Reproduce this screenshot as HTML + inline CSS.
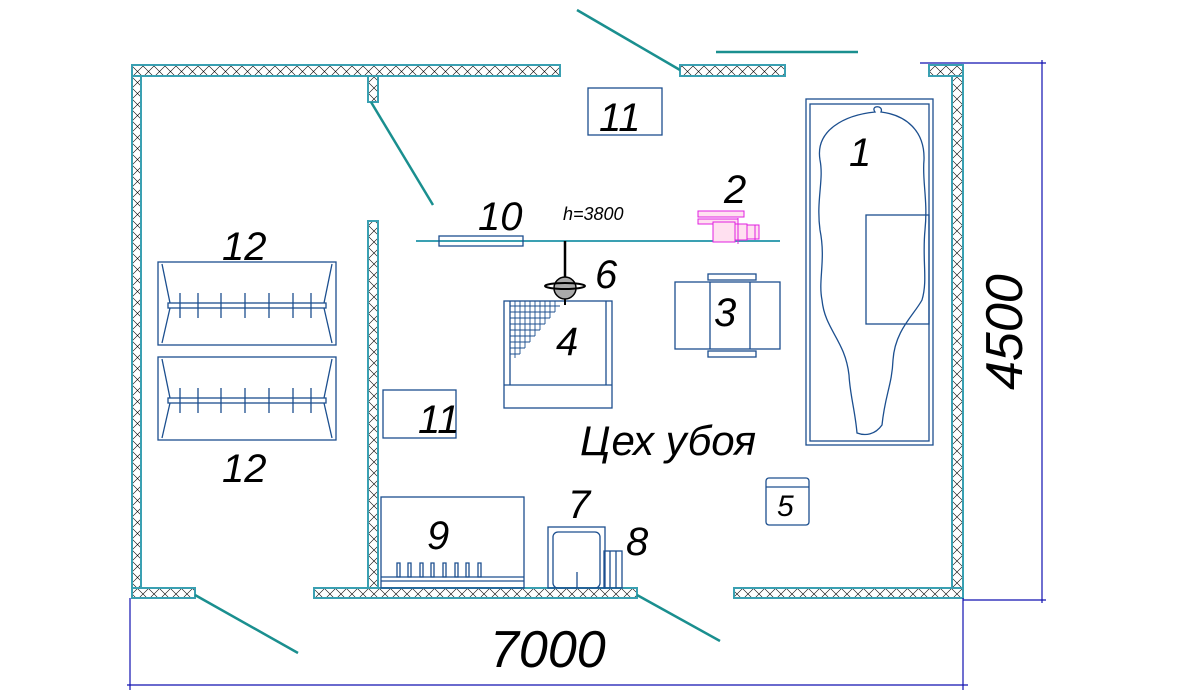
<!DOCTYPE html>
<html><head><meta charset="utf-8"><style>
html,body{margin:0;padding:0;background:#fff;}
svg{display:block}
text{font-family:"Liberation Sans","DejaVu Sans",sans-serif;font-style:italic;fill:#000}
</style></head><body>
<svg width="1191" height="700" viewBox="0 0 1191 700" xmlns="http://www.w3.org/2000/svg">
<defs>
<pattern id="hx" width="11" height="11" patternUnits="userSpaceOnUse">
<path d="M0 0L11 11M11 0L0 11" stroke="#000" stroke-width="0.6"/>
</pattern>
</defs>
<g fill="url(#hx)" stroke="#3aa0b2" stroke-width="2">
<rect x="132" y="65" width="428" height="11"/>
<rect x="368" y="76" width="10" height="26"/>
<rect x="680" y="65" width="105" height="11"/>
<rect x="929" y="65" width="34" height="11"/>
<rect x="132" y="76" width="9" height="512"/>
<rect x="952" y="76" width="11" height="512"/>
<rect x="368" y="221" width="10" height="367"/>
<rect x="132" y="588" width="63" height="10"/>
<rect x="314" y="588" width="323" height="10"/>
<rect x="734" y="588" width="229" height="10"/>
</g>
<g stroke="#1a8f8f" stroke-width="2.5" fill="none">
<line x1="371" y1="102" x2="433" y2="205"/>
<line x1="577" y1="10" x2="680" y2="70"/>
<line x1="716" y1="52" x2="858" y2="52"/>
<line x1="195" y1="595" x2="298" y2="653"/>
<line x1="637" y1="595" x2="720" y2="641"/>
</g>
<g stroke="#1010b0" stroke-width="1.2" fill="none">
<line x1="1042" y1="60" x2="1042" y2="603"/>
<line x1="920" y1="63" x2="1046" y2="63"/>
<line x1="963" y1="600" x2="1046" y2="600"/>
<line x1="127" y1="685" x2="968" y2="685"/>
<line x1="130" y1="598" x2="130" y2="690"/>
<line x1="963" y1="598" x2="963" y2="690"/>
</g>
<line x1="416" y1="241" x2="780" y2="241" stroke="#3aa0b2" stroke-width="2"/>
<g stroke="#1c4f8f" stroke-width="1.3" fill="none">
<rect x="439" y="236" width="84" height="10"/>
<rect x="588" y="88" width="74" height="47"/>
<rect x="383" y="390" width="73" height="48"/>
<rect x="158" y="262" width="178" height="83"/>
<rect x="158" y="357" width="178" height="83"/>
<path d="M162 264L170 303M332 264L324 303M162 343L170 308M332 343L324 308M162 359L170 398M332 359L324 398M162 438L170 403M332 438L324 403"/>
<rect x="168" y="303" width="158" height="5"/>
<rect x="168" y="398" width="158" height="5"/>
<path d="M180 293V318M198 293V318M221 293V318M245 293V318M269 293V318M293 293V318M311 293V318M180 388V413M198 388V413M221 388V413M245 388V413M269 388V413M293 388V413M311 388V413"/>
<rect x="504" y="301" width="108" height="107"/>
<path d="M510 301V385H606V301M504 385H612"/>
<path d="M510 306H560M510 312H555M510 318H550M510 324H545M510 330H540M510 336H535M510 342H530M510 348H525M510 354H520M515 301V358M520 301V354M525 301V348M530 301V342M535 301V336M540 301V330M545 301V324M550 301V318M555 301V312" stroke-width="0.9"/>
<rect x="675" y="282" width="105" height="67"/>
<path d="M710 282V349M750 282V349"/>
<rect x="708" y="274" width="48" height="6"/>
<rect x="708" y="351" width="48" height="6"/>
<rect x="806" y="99" width="127" height="346"/>
<rect x="810" y="104" width="119" height="337"/>
<rect x="866" y="215" width="63" height="109"/>
<path d="M875 112C870 105 884 105 881 112C905 115 925 130 924 160C922 180 928 200 925 230C922 260 928 280 922 300C914 315 895 330 893 360C892 385 885 395 882 425C875 435 865 436 857 433C855 410 850 395 849 375C845 340 825 330 822 300C818 280 826 260 820 230C816 200 824 180 820 160C815 130 845 115 875 112Z"/>
<rect x="766" y="478" width="43" height="47" rx="3"/>
<path d="M766 487H809"/>
<rect x="381" y="497" width="143" height="91"/>
<path d="M381 577H524M381 581H524"/>
<path d="M397 563h3v14h-3zM408 563h3v14h-3zM420 563h3v14h-3zM431 563h3v14h-3zM443 563h3v14h-3zM455 563h3v14h-3zM466 563h3v14h-3zM478 563h3v14h-3z"/>
<rect x="548" y="527" width="57" height="61"/>
<rect x="553" y="532" width="47" height="56" rx="5"/>
<path d="M577 572V588"/>
<rect x="604" y="551" width="18" height="37"/>
<path d="M610 551V588M616 551V588"/>
</g>
<g stroke="#e020e0" stroke-width="1" fill="#ffe0f0">
<rect x="698" y="211" width="46" height="6"/>
<rect x="698" y="219" width="40" height="5"/>
<rect x="713" y="222" width="22" height="20"/>
<rect x="735" y="224" width="12" height="16"/>
<rect x="747" y="225" width="12" height="14"/>
<path d="M738 218V244M755 225V240" fill="none"/>
</g>
<line x1="565" y1="241" x2="565" y2="278" stroke="#000" stroke-width="2.5"/>
<circle cx="565" cy="288" r="11" fill="#aaa" stroke="#000" stroke-width="1.5"/>
<ellipse cx="565" cy="286" rx="20" ry="3" fill="none" stroke="#000" stroke-width="2"/>
<line x1="565" y1="299" x2="565" y2="305" stroke="#000" stroke-width="2"/>
<g font-size="40">
<text x="849" y="166">1</text>
<text x="724" y="203">2</text>
<text x="714" y="326">3</text>
<text x="556" y="355">4</text>
<text x="595" y="288">6</text>
<text x="478" y="230">10</text>
<text x="599" y="131">11</text>
<text x="418" y="433">11</text>
<text x="222" y="260">12</text>
<text x="222" y="482">12</text>
<text x="427" y="549">9</text>
<text x="568" y="518">7</text>
<text x="626" y="555">8</text>
<text x="777" y="516" font-size="30">5</text>
<text x="580" y="455" font-size="42">Цех убоя</text>
<text x="563" y="220" font-size="18" fill="#333">h=3800</text>
<text x="490" y="667" font-size="52">7000</text>
<text transform="translate(1022,390) rotate(-90)" font-size="52">4500</text>
</g>
</svg>
</body></html>
